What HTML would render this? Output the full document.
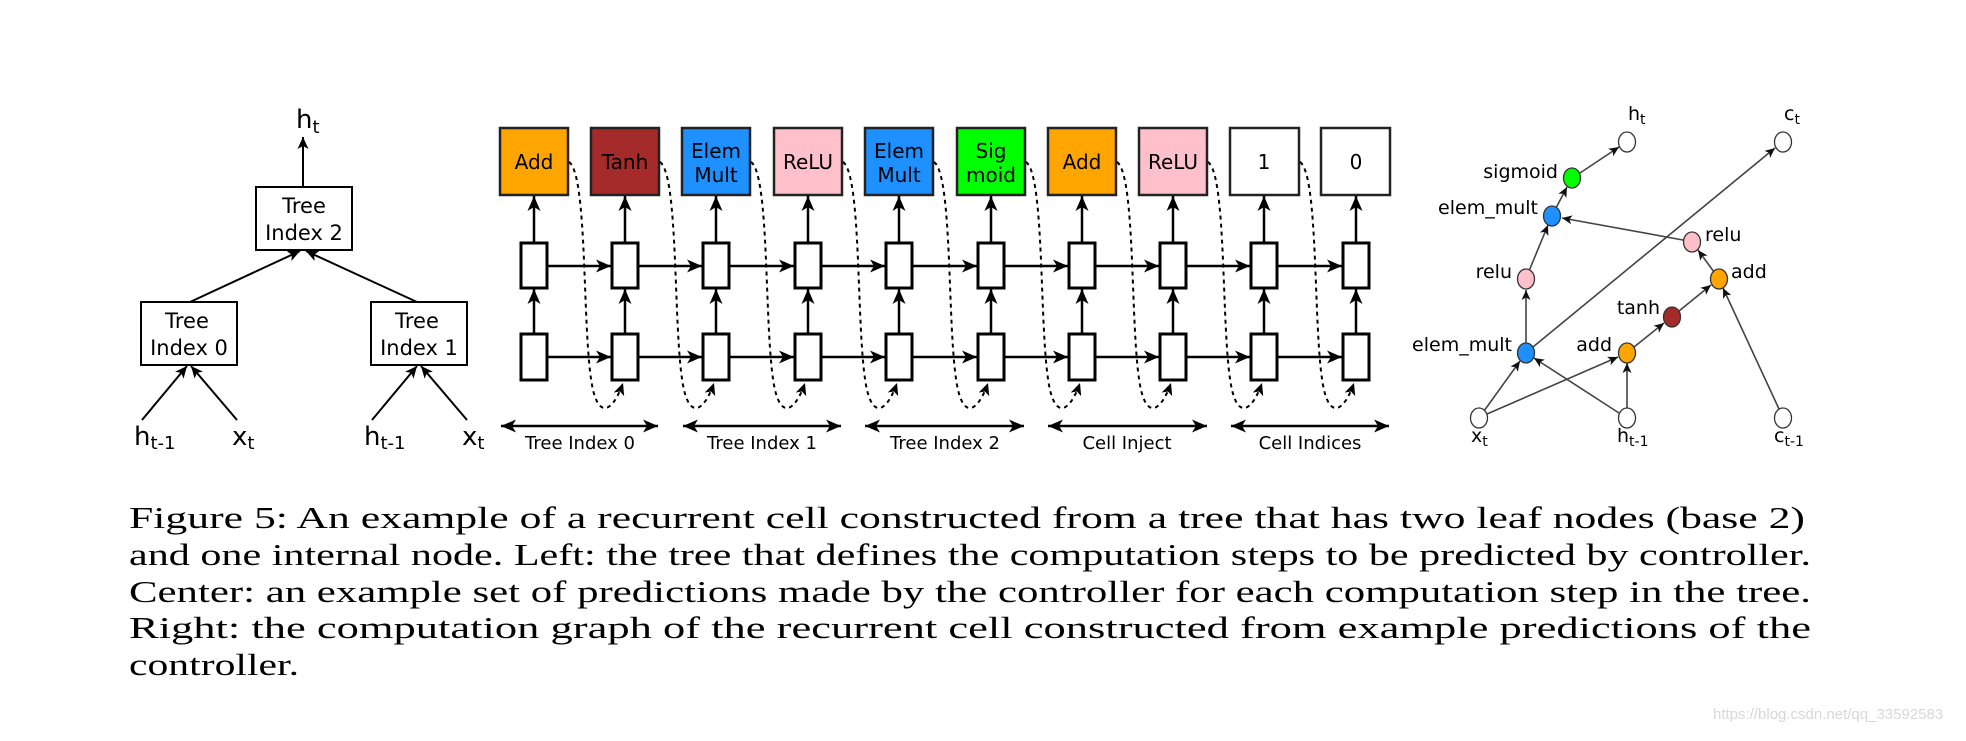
<!DOCTYPE html>
<html><head><meta charset="utf-8"><style>
html,body{margin:0;padding:0;background:#fff;}
svg{display:block;}
.d{font-family:"DejaVu Sans","Liberation Sans",sans-serif;}
.c{font-family:"Liberation Serif",serif;}
</style></head><body>
<svg width="1966" height="741" viewBox="0 0 1966 741" xmlns="http://www.w3.org/2000/svg">
<defs>
<marker id="A" markerUnits="userSpaceOnUse" markerWidth="16" markerHeight="14" refX="15" refY="6.5" orient="auto"><path d="M0,0 L15,6.5 L0,13 L4,6.5 z" fill="#000"/></marker>
<marker id="As" markerUnits="userSpaceOnUse" markerWidth="14" markerHeight="12" refX="12" refY="5.5" orient="auto"><path d="M0,0 L12,5.5 L0,11 L3,5.5 z" fill="#000"/></marker>
<marker id="AS" markerUnits="userSpaceOnUse" markerWidth="16" markerHeight="14" refX="15" refY="6.5" orient="auto-start-reverse"><path d="M0,0 L15,6.5 L0,13 L4,6.5 z" fill="#000"/></marker>
<marker id="g" markerUnits="userSpaceOnUse" markerWidth="11" markerHeight="10" refX="10" refY="4.5" orient="auto"><path d="M0,0 L10,4.5 L0,9 L2.5,4.5 z" fill="#111"/></marker>
</defs>

<!-- LEFT TREE -->
<g class="d" font-size="21" text-anchor="middle" fill="#000">
<rect x="256" y="187" width="96" height="63" fill="#fff" stroke="#000" stroke-width="2"/>
<text x="304" y="213">Tree</text><text x="304" y="240">Index 2</text>
<rect x="141" y="302" width="96" height="63" fill="#fff" stroke="#000" stroke-width="2"/>
<text x="187" y="328">Tree</text><text x="189" y="355">Index 0</text>
<rect x="371" y="302" width="96" height="63" fill="#fff" stroke="#000" stroke-width="2"/>
<text x="417" y="328">Tree</text><text x="419" y="355">Index 1</text>
</g>
<g stroke="#000" stroke-width="2" fill="none">
<line x1="303" y1="187" x2="303" y2="137" marker-end="url(#As)"/>
<line x1="190" y1="302" x2="300" y2="251" marker-end="url(#As)"/>
<line x1="417" y1="302" x2="306" y2="251" marker-end="url(#As)"/>
<line x1="142" y1="420" x2="187" y2="366" marker-end="url(#As)"/>
<line x1="237" y1="420" x2="191" y2="366" marker-end="url(#As)"/>
<line x1="372" y1="420" x2="417" y2="366" marker-end="url(#As)"/>
<line x1="467" y1="420" x2="421" y2="366" marker-end="url(#As)"/>
</g>
<g class="d" fill="#000">
<text x="296" y="128" font-size="26">h<tspan font-size="18" dy="5">t</tspan></text>
<text x="134" y="445" font-size="26">h<tspan font-size="18" dy="4">t-1</tspan></text>
<text x="232" y="445" font-size="26">x<tspan font-size="18" dy="4">t</tspan></text>
<text x="364" y="445" font-size="26">h<tspan font-size="18" dy="4">t-1</tspan></text>
<text x="462" y="445" font-size="26">x<tspan font-size="18" dy="4">t</tspan></text>
</g>

<!-- CENTER -->
<g stroke="#222" stroke-width="2.5">
<rect x="500" y="128" width="68" height="67" fill="#FFA500"/>
<rect x="591" y="128" width="68" height="67" fill="#A52A2A"/>
<rect x="682" y="128" width="68" height="67" fill="#1E90FF"/>
<rect x="774" y="128" width="68" height="67" fill="#FFC0CB"/>
<rect x="865" y="128" width="68" height="67" fill="#1E90FF"/>
<rect x="957" y="128" width="68" height="67" fill="#00FF00"/>
<rect x="1048" y="128" width="68" height="67" fill="#FFA500"/>
<rect x="1139" y="128" width="68" height="67" fill="#FFC0CB"/>
<rect x="1230" y="128" width="69" height="67" fill="#fff"/>
<rect x="1321" y="128" width="69" height="67" fill="#fff"/>
</g>
<g class="d" font-size="20" text-anchor="middle" fill="#000">
<text x="534" y="169">Add</text>
<text x="625" y="169">Tanh</text>
<text x="716" y="158">Elem</text><text x="716" y="182">Mult</text>
<text x="808" y="169">ReLU</text>
<text x="899" y="158">Elem</text><text x="899" y="182">Mult</text>
<text x="991" y="158">Sig</text><text x="991" y="182">moid</text>
<text x="1082" y="169">Add</text>
<text x="1173" y="169">ReLU</text>
<text x="1264" y="169">1</text>
<text x="1356" y="169">0</text>
</g>
<!-- cells -->
<g fill="#fff" stroke="#000" stroke-width="3">
<rect x="521" y="243" width="26" height="45"/><rect x="521" y="334" width="26" height="46"/>
<rect x="612" y="243" width="26" height="45"/><rect x="612" y="334" width="26" height="46"/>
<rect x="703" y="243" width="26" height="45"/><rect x="703" y="334" width="26" height="46"/>
<rect x="795" y="243" width="26" height="45"/><rect x="795" y="334" width="26" height="46"/>
<rect x="886" y="243" width="26" height="45"/><rect x="886" y="334" width="26" height="46"/>
<rect x="978" y="243" width="26" height="45"/><rect x="978" y="334" width="26" height="46"/>
<rect x="1069" y="243" width="26" height="45"/><rect x="1069" y="334" width="26" height="46"/>
<rect x="1160" y="243" width="26" height="45"/><rect x="1160" y="334" width="26" height="46"/>
<rect x="1251" y="243" width="26" height="45"/><rect x="1251" y="334" width="26" height="46"/>
<rect x="1343" y="243" width="26" height="45"/><rect x="1343" y="334" width="26" height="46"/>
</g>
<g stroke="#000" stroke-width="2.5" fill="none">
<!-- vertical -->
<line x1="534" y1="334" x2="534" y2="289" marker-end="url(#A)"/><line x1="534" y1="243" x2="534" y2="196" marker-end="url(#A)"/>
<line x1="625" y1="334" x2="625" y2="289" marker-end="url(#A)"/><line x1="625" y1="243" x2="625" y2="196" marker-end="url(#A)"/>
<line x1="716" y1="334" x2="716" y2="289" marker-end="url(#A)"/><line x1="716" y1="243" x2="716" y2="196" marker-end="url(#A)"/>
<line x1="808" y1="334" x2="808" y2="289" marker-end="url(#A)"/><line x1="808" y1="243" x2="808" y2="196" marker-end="url(#A)"/>
<line x1="899" y1="334" x2="899" y2="289" marker-end="url(#A)"/><line x1="899" y1="243" x2="899" y2="196" marker-end="url(#A)"/>
<line x1="991" y1="334" x2="991" y2="289" marker-end="url(#A)"/><line x1="991" y1="243" x2="991" y2="196" marker-end="url(#A)"/>
<line x1="1082" y1="334" x2="1082" y2="289" marker-end="url(#A)"/><line x1="1082" y1="243" x2="1082" y2="196" marker-end="url(#A)"/>
<line x1="1173" y1="334" x2="1173" y2="289" marker-end="url(#A)"/><line x1="1173" y1="243" x2="1173" y2="196" marker-end="url(#A)"/>
<line x1="1264" y1="334" x2="1264" y2="289" marker-end="url(#A)"/><line x1="1264" y1="243" x2="1264" y2="196" marker-end="url(#A)"/>
<line x1="1356" y1="334" x2="1356" y2="289" marker-end="url(#A)"/><line x1="1356" y1="243" x2="1356" y2="196" marker-end="url(#A)"/>
<!-- horizontal -->
<line x1="547" y1="266" x2="611" y2="266" marker-end="url(#A)"/><line x1="547" y1="357" x2="611" y2="357" marker-end="url(#A)"/>
<line x1="638" y1="266" x2="702" y2="266" marker-end="url(#A)"/><line x1="638" y1="357" x2="702" y2="357" marker-end="url(#A)"/>
<line x1="729" y1="266" x2="794" y2="266" marker-end="url(#A)"/><line x1="729" y1="357" x2="794" y2="357" marker-end="url(#A)"/>
<line x1="821" y1="266" x2="885" y2="266" marker-end="url(#A)"/><line x1="821" y1="357" x2="885" y2="357" marker-end="url(#A)"/>
<line x1="912" y1="266" x2="977" y2="266" marker-end="url(#A)"/><line x1="912" y1="357" x2="977" y2="357" marker-end="url(#A)"/>
<line x1="1004" y1="266" x2="1068" y2="266" marker-end="url(#A)"/><line x1="1004" y1="357" x2="1068" y2="357" marker-end="url(#A)"/>
<line x1="1095" y1="266" x2="1159" y2="266" marker-end="url(#A)"/><line x1="1095" y1="357" x2="1159" y2="357" marker-end="url(#A)"/>
<line x1="1186" y1="266" x2="1250" y2="266" marker-end="url(#A)"/><line x1="1186" y1="357" x2="1250" y2="357" marker-end="url(#A)"/>
<line x1="1277" y1="266" x2="1342" y2="266" marker-end="url(#A)"/><line x1="1277" y1="357" x2="1342" y2="357" marker-end="url(#A)"/>
<!-- bidirectional -->
<line x1="501" y1="426" x2="658" y2="426" marker-start="url(#AS)" marker-end="url(#AS)"/>
<line x1="683" y1="426" x2="841" y2="426" marker-start="url(#AS)" marker-end="url(#AS)"/>
<line x1="865" y1="426" x2="1024" y2="426" marker-start="url(#AS)" marker-end="url(#AS)"/>
<line x1="1048" y1="426" x2="1207" y2="426" marker-start="url(#AS)" marker-end="url(#AS)"/>
<line x1="1231" y1="426" x2="1389" y2="426" marker-start="url(#AS)" marker-end="url(#AS)"/>
</g>
<!-- dotted curves -->
<g stroke="#000" stroke-width="2" fill="none" stroke-dasharray="4 4">
<path d="M569,162 C588,175 582,330 592,385 C598,418 612,414 623,383" marker-end="url(#As)"/>
<path d="M660,162 C679,175 673,330 683,385 C689,418 703,414 714,383" marker-end="url(#As)"/>
<path d="M751,162 C770,175 764,330 774,385 C780,418 794,414 805,383" marker-end="url(#As)"/>
<path d="M843,162 C862,175 856,330 866,385 C872,418 886,414 897,383" marker-end="url(#As)"/>
<path d="M934,162 C953,175 947,330 957,385 C963,418 977,414 988,383" marker-end="url(#As)"/>
<path d="M1026,162 C1045,175 1039,330 1049,385 C1055,418 1069,414 1080,383" marker-end="url(#As)"/>
<path d="M1117,162 C1136,175 1130,330 1140,385 C1146,418 1160,414 1171,383" marker-end="url(#As)"/>
<path d="M1208,162 C1227,175 1221,330 1231,385 C1237,418 1251,414 1262,383" marker-end="url(#As)"/>
<path d="M1300,162 C1319,175 1313,330 1323,385 C1329,418 1343,414 1354,383" marker-end="url(#As)"/>
</g>
<g class="d" font-size="18" text-anchor="middle" fill="#000">
<text x="580" y="449">Tree Index 0</text>
<text x="762" y="449">Tree Index 1</text>
<text x="945" y="449">Tree Index 2</text>
<text x="1127" y="449">Cell Inject</text>
<text x="1310" y="449">Cell Indices</text>
</g>

<!-- RIGHT GRAPH -->
<g stroke="#444" stroke-width="1.6" fill="none">
<line x1="1580" y1="173" x2="1619" y2="147" marker-end="url(#g)"/>
<line x1="1556" y1="208" x2="1567" y2="187" marker-end="url(#g)"/>
<line x1="1529" y1="271" x2="1548" y2="225" marker-end="url(#g)"/>
<line x1="1683" y1="240" x2="1562" y2="218" marker-end="url(#g)"/>
<line x1="1526" y1="343" x2="1526" y2="290" marker-end="url(#g)"/>
<line x1="1533" y1="347" x2="1775" y2="148" marker-end="url(#g)"/>
<line x1="1714" y1="272" x2="1698" y2="250" marker-end="url(#g)"/>
<line x1="1679" y1="311" x2="1711" y2="285" marker-end="url(#g)"/>
<line x1="1779" y1="409" x2="1723" y2="288" marker-end="url(#g)"/>
<line x1="1634" y1="347" x2="1664" y2="323" marker-end="url(#g)"/>
<line x1="1484" y1="411" x2="1520" y2="361" marker-end="url(#g)"/>
<line x1="1619" y1="413" x2="1534" y2="358" marker-end="url(#g)"/>
<line x1="1487" y1="414" x2="1618" y2="357" marker-end="url(#g)"/>
<line x1="1627" y1="408" x2="1627" y2="363" marker-end="url(#g)"/>
</g>
<g stroke="#333" stroke-width="1.3">
<ellipse cx="1627" cy="142" rx="8.5" ry="10" fill="#fff"/>
<ellipse cx="1783" cy="142" rx="8.5" ry="10" fill="#fff"/>
<ellipse cx="1572" cy="178" rx="8.5" ry="10" fill="#00FF00"/>
<ellipse cx="1552" cy="216" rx="8.5" ry="10" fill="#1E90FF"/>
<ellipse cx="1692" cy="242" rx="8.5" ry="10" fill="#FFC0CB"/>
<ellipse cx="1526" cy="279" rx="8.5" ry="10" fill="#FFC0CB"/>
<ellipse cx="1719" cy="279" rx="8.5" ry="10" fill="#FFA500"/>
<ellipse cx="1672" cy="317" rx="8.5" ry="10" fill="#A52A2A"/>
<ellipse cx="1526" cy="353" rx="8.5" ry="10" fill="#1E90FF"/>
<ellipse cx="1627" cy="353" rx="8.5" ry="10" fill="#FFA500"/>
<ellipse cx="1479" cy="418" rx="8.5" ry="10" fill="#fff"/>
<ellipse cx="1627" cy="418" rx="8.5" ry="10" fill="#fff"/>
<ellipse cx="1783" cy="418" rx="8.5" ry="10" fill="#fff"/>
</g>
<g class="d" font-size="19" fill="#000">
<text x="1628" y="120">h<tspan font-size="14" dy="4">t</tspan></text>
<text x="1784" y="120">c<tspan font-size="14" dy="4">t</tspan></text>
<text x="1558" y="178" text-anchor="end">sigmoid</text>
<text x="1538" y="214" text-anchor="end">elem_mult</text>
<text x="1705" y="241">relu</text>
<text x="1512" y="278" text-anchor="end">relu</text>
<text x="1731" y="278">add</text>
<text x="1660" y="314" text-anchor="end">tanh</text>
<text x="1512" y="351" text-anchor="end">elem_mult</text>
<text x="1612" y="351" text-anchor="end">add</text>
<text x="1471" y="442">x<tspan font-size="14" dy="4">t</tspan></text>
<text x="1617" y="442">h<tspan font-size="14" dy="4">t-1</tspan></text>
<text x="1774" y="442">c<tspan font-size="14" dy="4">t-1</tspan></text>
</g>

<!-- CAPTION -->
<g class="c" font-size="31" fill="#000">
<text x="129" y="528" textLength="1676" lengthAdjust="spacingAndGlyphs">Figure 5:  An example of a recurrent cell constructed from a tree that has two leaf nodes (base 2)</text>
<text x="129" y="565" textLength="1682" lengthAdjust="spacingAndGlyphs">and one internal node. Left: the tree that defines the computation steps to be predicted by controller.</text>
<text x="129" y="602" textLength="1682" lengthAdjust="spacingAndGlyphs">Center: an example set of predictions made by the controller for each computation step in the tree.</text>
<text x="129" y="638" textLength="1682" lengthAdjust="spacingAndGlyphs">Right:  the computation graph of the recurrent cell constructed from example predictions of the</text>
<text x="129" y="675" textLength="170" lengthAdjust="spacingAndGlyphs">controller.</text>
</g>
<text x="1713" y="719" font-family="Liberation Sans, sans-serif" font-size="15" fill="#d8d8d8">https://blog.csdn.net/qq_33592583</text>
</svg>
</body></html>
